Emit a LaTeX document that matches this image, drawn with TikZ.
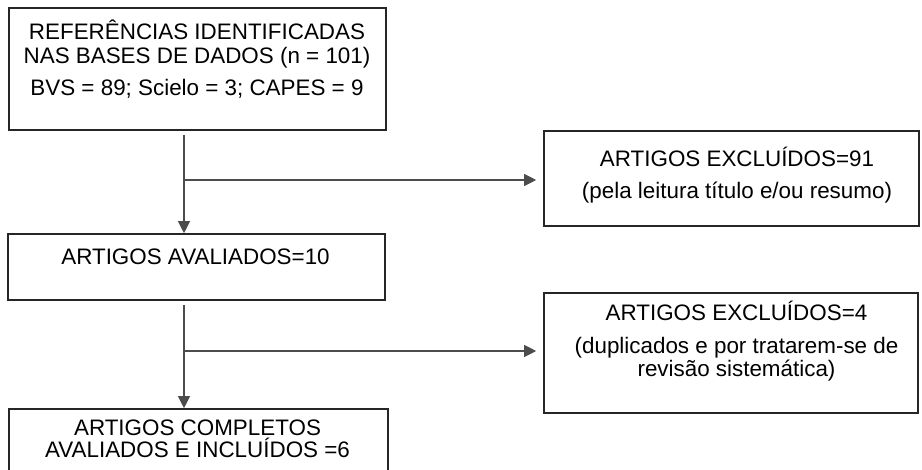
\documentclass[tikz,border=0pt]{standalone}
\usepackage{fontspec}
\setmainfont{Liberation Sans}
\usetikzlibrary{arrows.meta,positioning}

\tikzset{
  box/.style={draw=black!85,line width=1.6pt,inner sep=0pt},
  txt/.style={align=center,inner sep=0pt,anchor=north,
    font=\fontsize{22.4}{22}\selectfont},
  link/.style={draw=black!70,line width=1.1pt,
    -{Triangle[length=12pt,width=12pt]}}
}

\begin{document}
\begin{tikzpicture}[x=1pt,y=-1pt]
      \path[use as bounding box,clip] (0,0) rectangle (922,470);
      % boxes on the left
      \node[box,minimum width=377pt,minimum height=122pt] (refs) at (197.5,69) {};
      \node[txt] (refs-t) at (197,20) {REFERÊNCIAS IDENTIFICADAS\\[2pt]NAS BASES DE DADOS (n = 101)\\[10pt]BVS = 89; Scielo = 3; CAPES = 9};
      \node[box,minimum width=377pt,minimum height=66pt] (aval) at (196.5,267) {};
      \node[txt] (aval-t) at (195.5,249) {ARTIGOS AVALIADOS=10};
      \node[box,minimum width=379pt,minimum height=90pt] (incl) at (198.5,454) {};
      \node[txt] (incl-t) at (197.5,420) {ARTIGOS COMPLETOS\\AVALIADOS E INCLUÍDOS =6};
      % boxes on the right
      \node[box,minimum width=375pt,minimum height=95pt] (exc1) at (731.5,178.5) {};
      \node[txt] (exc1-t) at (737,147) {ARTIGOS EXCLUÍDOS=91\\[10pt](pela leitura título e/ou resumo)};
      \node[box,minimum width=374pt,minimum height=120pt] (exc2) at (731,353) {};
      \node[txt] (exc2-t) at (736.5,301) {ARTIGOS EXCLUÍDOS=4\\[11pt](duplicados e por tratarem-se de\\[1pt]revisão sistemática)};
      % connectors
      \coordinate (tap1) at (184,180);
      \coordinate (tap2) at (184,351);
      \draw[link,shorten <=4pt] (refs.south -| tap1) -- (aval.north -| tap1);
      \draw[link,shorten >=7pt] (tap1) -- (tap1 -| exc1.west);
      \draw[link,shorten <=4pt] (aval.south -| tap2) -- (incl.north -| tap2);
      \draw[link,shorten >=7pt] (tap2) -- (tap2 -| exc2.west);
\end{tikzpicture}
\end{document}
